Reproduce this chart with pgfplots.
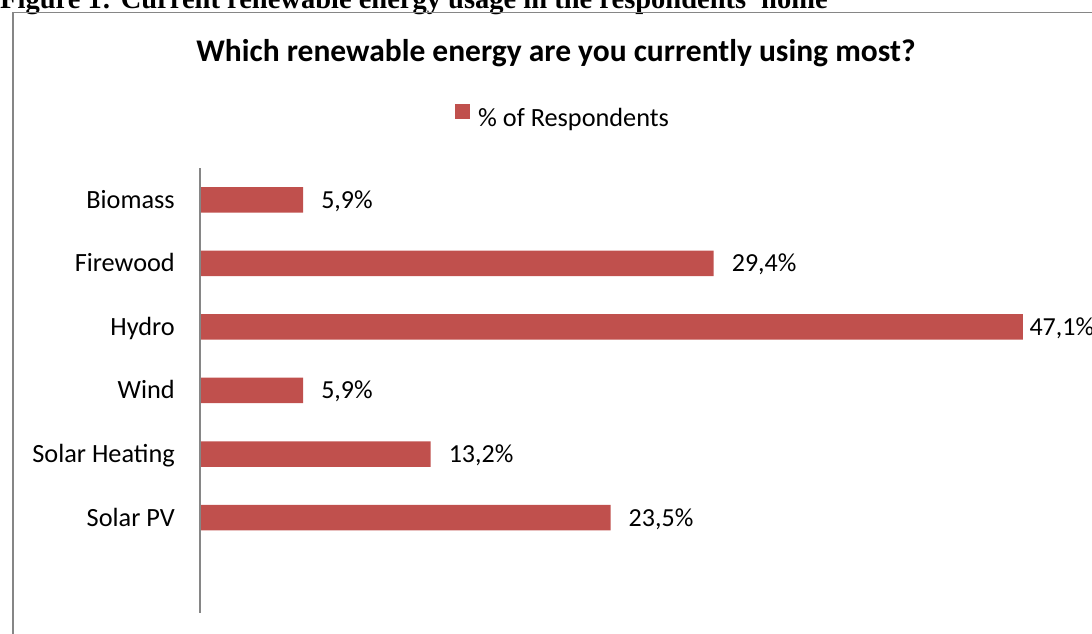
\documentclass[border=0pt]{standalone}
\usepackage{fontspec}
\setmainfont{Carlito}
\newfontfamily\headfont{Liberation Serif}
\usepackage{pgfplots}
\pgfplotsset{compat=1.18}
\usepackage{pgfplotstable}
\definecolor{barred}{HTML}{C0504D}
\definecolor{axgray}{HTML}{868686}
\pgfplotstableread{
pos value shift
6 5.9 18
5 29.4 18
4 47.1 6.5
3 5.9 18
2 13.2 18
1 23.5 18
}\datatable
\begin{document}
\begin{tikzpicture}[x=1pt,y=1pt]
\useasboundingbox (0,0) rectangle (1092,634);
\clip (0,0) rectangle (1092,634);
\node[anchor=base west, inner sep=0pt] at (0,625) {\headfont\bfseries\fontsize{28.5}{33}\selectfont Figure 1: Current renewable energy usage in the respondents' home};
\draw[axgray, line width=1.5pt] (13,-10) -- (13,621.5) -- (1110,621.5);
\node[anchor=base, inner sep=0pt] at (556,572) {\bfseries\fontsize{31.5}{36}\selectfont Which renewable energy are you currently using most?};
\begin{axis}[
  at={(200pt,21pt)}, anchor=south west,
  scale only axis, width=873.5pt, height=445pt,
  xbar, bar width=25.5pt,
  xmin=0, xmax=50, ymin=-0.5, ymax=6.5,
  axis x line=none, axis y line*=left,
  axis line style={draw=axgray, line width=2pt},
  axis on top,
  xtick=\empty,
  ytick={1,2,3,4,5,6},
  yticklabels={Solar PV, Solar Heating, Wind, Hydro, Firewood, Biomass},
  major tick length=0pt,
  yticklabel style={font=\fontsize{26.3}{30}\selectfont, inner sep=0pt, anchor=base east, yshift=-8.5pt, xshift=-25pt},
  point meta=x,
  visualization depends on={\thisrow{shift} \as \labelshift},
  nodes near coords={\pgfmathprintnumber[fixed,fixed zerofill,precision=1,use comma,assume math mode=true]{\pgfplotspointmeta}\%},
  every node near coord/.append style={font=\fontsize{26}{30}\selectfont, text=black, inner sep=0pt, anchor=base west, yshift=-8.5pt, xshift=\labelshift pt},
  legend style={at={(axis description cs:0.2919,1.116)}, anchor=west, draw=none, fill=none, inner sep=0pt, column sep=8pt, nodes={inner sep=0pt, font=\fontsize{26.3}{30}\selectfont}},
  legend image code/.code={\fill[barred] (0pt,-1pt) rectangle (15pt,14pt);},
]
\addplot[fill=barred, draw=none] table[x=value, y=pos] {\datatable};
\addlegendentry{\% of Respondents}
\end{axis}
\end{tikzpicture}
\end{document}
